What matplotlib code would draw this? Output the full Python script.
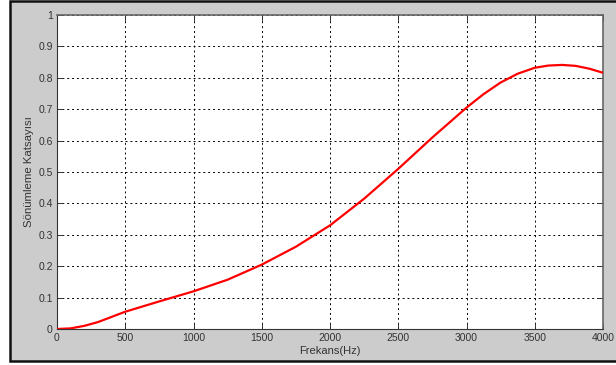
import matplotlib
matplotlib.use('Agg')
import matplotlib.pyplot as plt
from matplotlib.patches import Rectangle

# values
frekans = [0, 100, 200, 300, 500, 750, 1000, 1250, 1500, 1750, 2000, 2250,
           2500, 2750, 3000, 3125, 3250, 3375, 3500, 3600, 3700, 3800, 3900, 4000]
sonum = [0.0, 0.002, 0.01, 0.022, 0.055, 0.088, 0.12, 0.157, 0.205, 0.262,
         0.33, 0.415, 0.51, 0.61, 0.705, 0.748, 0.785, 0.813, 0.832, 0.839,
         0.841, 0.838, 0.829, 0.816]

x_ticks = [0, 500, 1000, 1500, 2000, 2500, 3000, 3500, 4000]
y_ticks = [0, 0.1, 0.2, 0.3, 0.4, 0.5, 0.6, 0.7, 0.8, 0.9, 1]
y_labels = ['0', '0.1', '0.2', '0.3', '0.4', '0.5', '0.6', '0.7', '0.8', '0.9', '1']

plt.rcParams['font.family'] = ['Liberation Sans', 'DejaVu Sans']

W, H = 616, 365
fig = plt.figure(figsize=(W / 100, H / 100), dpi=100)
fig.patch.set_facecolor('white')

# grey window panel with dark frame
fig.patches.append(Rectangle((10 / W, 1 - 361 / H), 1, 360 / H, transform=fig.transFigure,
                             facecolor='#cccccc', edgecolor='#111111', linewidth=1.8,
                             zorder=-5))

ax = fig.add_axes([57 / W, 1 - 329 / H, (603 - 57) / W, (329 - 15) / H])
ax.set_facecolor('white')

ax.plot(frekans, sonum, color='#ff0000', linewidth=1.6, zorder=3)

ax.set_xlim(0, 4000)
ax.set_ylim(0, 1)
ax.set_xticks(x_ticks)
ax.set_yticks(y_ticks)
ax.set_yticklabels(y_labels)
ax.grid(True, color='black', linestyle=(0, (2, 3)), linewidth=0.7)
ax.tick_params(direction='in', length=4, width=0.7, labelsize=7.5,
               labelcolor='#333333', color='#333333', pad=3,
               top=True, right=True)

for side in ['left', 'bottom']:
    ax.spines[side].set_color('#333333')
    ax.spines[side].set_linewidth(0.8)
for side in ['top', 'right']:
    ax.spines[side].set_color('#666666')
    ax.spines[side].set_linewidth(1.2)

ax.set_xlabel('Frekans(Hz)', fontsize=8, color='#333333', labelpad=2)
ax.set_ylabel('Sönümleme Katsayısı', fontsize=8.2, color='#333333', labelpad=3)

fig.savefig('out.png', dpi=100, facecolor=fig.get_facecolor())
